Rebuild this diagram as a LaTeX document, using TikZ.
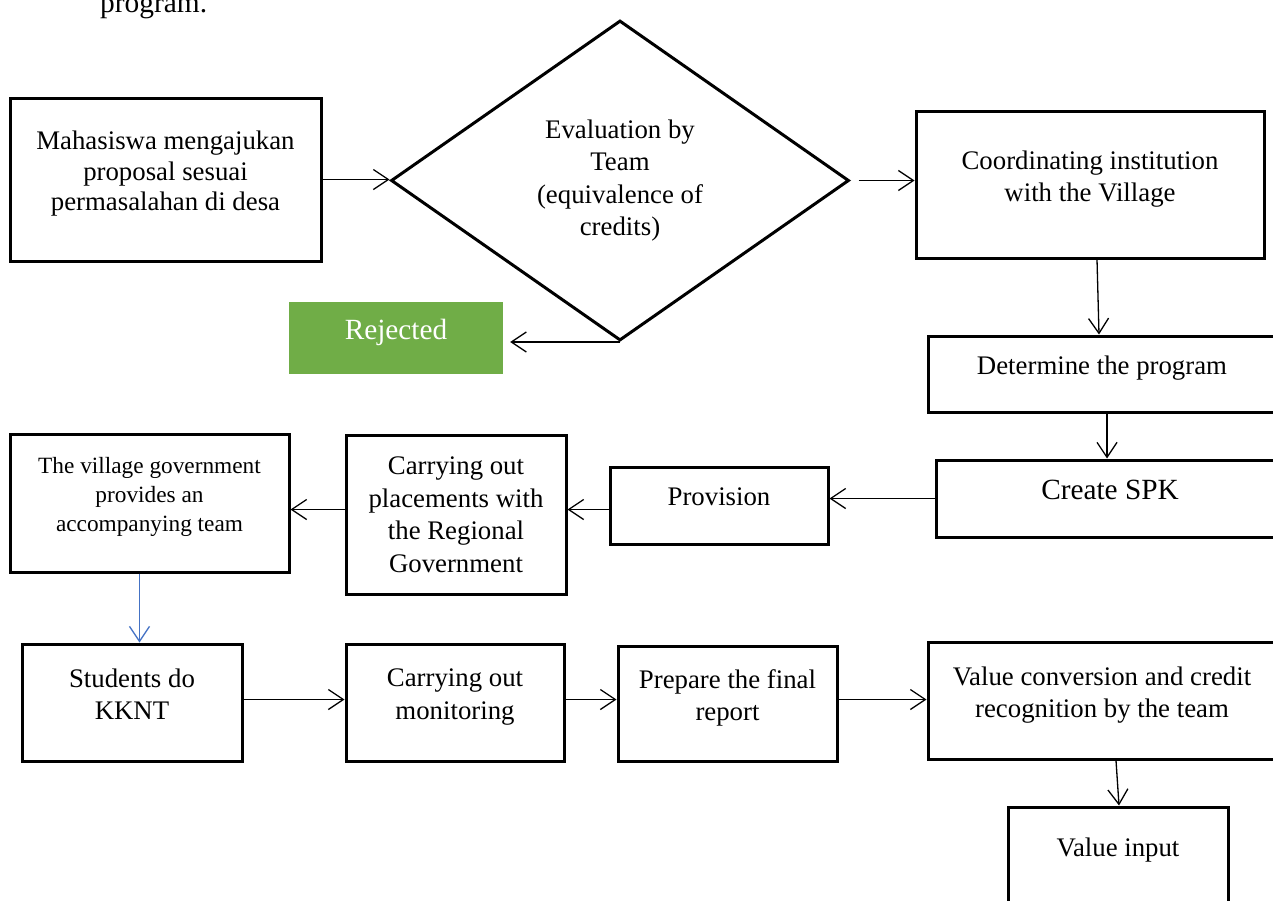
\documentclass[tikz,border=0pt]{standalone}
\usepackage{fontspec}
\setmainfont{Liberation Serif}
\usepackage{xcolor}
\usepackage{tikz}
\usetikzlibrary{shapes.geometric, arrows.meta, positioning, calc}

\definecolor{rejgreen}{HTML}{70AD47}
\definecolor{wordblue}{HTML}{4472C4}

\begin{document}
\begin{tikzpicture}[x=1pt, y=-1pt,
  box/.style={draw, line width=3pt, align=center, inner sep=0pt, font=\fontsize{26.8}{32.5}\selectfont},
  lift/.style={execute at end node={\rule[-17pt]{0pt}{0pt}}},
  >={Straight Barb[length=15pt,width=20pt]}]

\useasboundingbox (0,0) rectangle (1273,900);
\clip (0,0) rectangle (1273,900);

\node[anchor=base west, inner sep=0pt, font=\fontsize{29.4}{32}\selectfont] (prog) at (100,12) {program.};

% first row
\node[box, lift, font=\fontsize{26.8}{30.5}\selectfont, minimum width=311pt, minimum height=163pt] (prop) at (165.5,179.5) {Mahasiswa mengajukan\\proposal sesuai\\permasalahan di desa};
\node[box, diamond, minimum width=458pt, minimum height=320pt] (eval) at (620,180.5) {Evaluation by\\Team\\(equivalence of\\credits)};
\node[box, lift, minimum width=348pt, minimum height=147pt] (coord) at (1090,184.5) {Coordinating institution\\with the Village};
\node[fill=rejgreen, text=white, inner sep=0pt, lift, minimum width=214pt, minimum height=72pt, font=\fontsize{29.3}{35}\selectfont] (rej) at (396,338) {Rejected};

% right column
\node[box, lift, minimum width=348pt, minimum height=76pt] (det) at (1102,374) {Determine the program};
\node[box, lift, minimum width=348pt, minimum height=77pt, font=\fontsize{29.3}{35}\selectfont] (spk) at (1110,498.5) {Create SPK};

% second row
\node[box, lift, minimum width=218pt, minimum height=77pt] (prov) at (719,505.5) {Provision};
\node[box, minimum width=220pt, minimum height=159pt] (place) at (456,514.5) {Carrying out\\placements with\\the Regional\\Government};
\node[box, lift, minimum width=279pt, minimum height=138pt, font=\fontsize{23.3}{29}\selectfont] (vil) at (149.5,503) {The village government\\provides an\\accompanying team};

% third row
\node[box, lift, minimum width=220pt, minimum height=117pt] (stud) at (132,702.5) {Students do\\KKNT};
\node[box, lift, minimum width=218pt, minimum height=117pt] (mon) at (455,702.5) {Carrying out\\monitoring};
\node[box, lift, minimum width=219pt, minimum height=115pt] (prep) at (727.5,703.5) {Prepare the final\\report};
\node[box, lift, minimum width=348pt, minimum height=117pt] (conv) at (1102,700.5) {Value conversion and credit\\recognition by the team};
\node[box, lift, minimum width=220pt, minimum height=98pt] (input) at (1118,856) {Value input};

\begin{scope}[line width=1.3pt]
\draw[->] (prop.east) to (prop.east -| eval.west);
\draw[->] ([xshift=8pt]eval.east) to (eval.east -| coord.west);
\draw[->] (eval.south) to ([xshift=7pt]rej.east |- eval.south);
\draw[->] ([xshift=7pt]coord.south) to ([xshift=-3pt]det.north);
\draw[->] ([xshift=5pt]det.south) to ([xshift=-3pt]spk.north);
\draw[->] (spk.west) to (spk.west -| prov.east);
\draw[->] ([yshift=-4pt]prov.west) to ([yshift=-4pt]prov.west -| place.east);
\draw[->] ([yshift=5pt]place.west) to ([yshift=5pt]place.west -| vil.east);
\draw[->, wordblue] ([xshift=-10pt]vil.south) to ([xshift=-10pt]vil.south |- stud.north);
\draw[->] ([yshift=3pt]stud.east) to ([yshift=3pt]stud.east -| mon.west);
\draw[->] ([yshift=3pt]mon.east) to ([yshift=3pt]mon.east -| prep.west);
\draw[->] ([yshift=4pt]prep.east) to ([yshift=4pt]prep.east -| conv.west);
\draw[->] ([xshift=14pt]conv.south) to ([xshift=1pt]input.north);
\end{scope}

\end{tikzpicture}
\end{document}
